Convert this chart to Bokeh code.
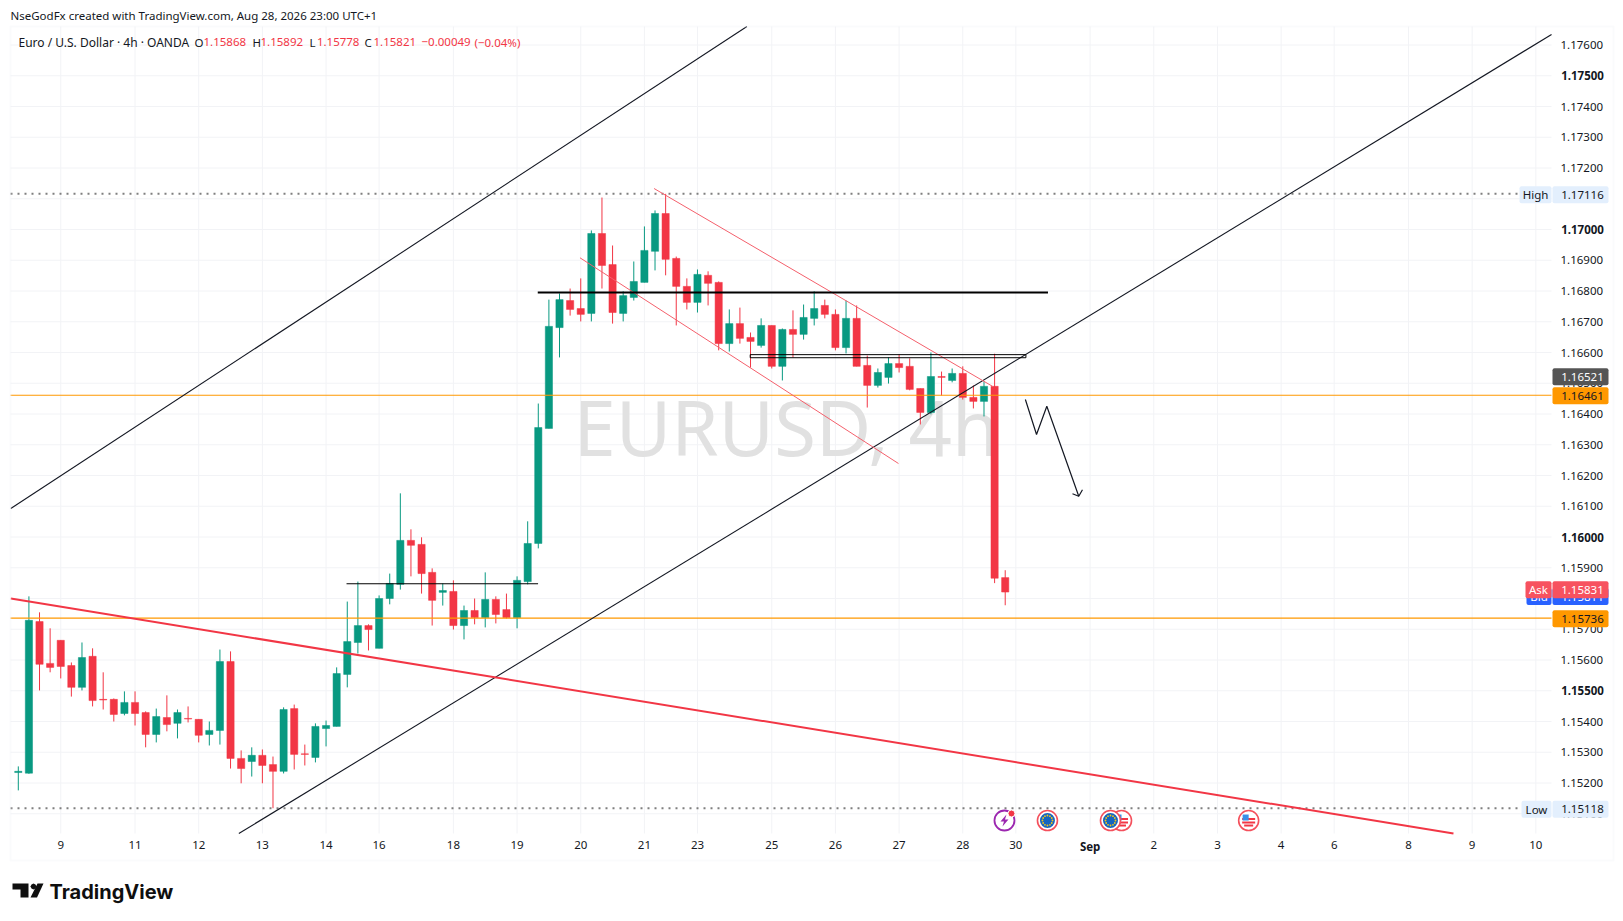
from bokeh.plotting import figure
from bokeh.embed import file_html
from bokeh.resources import INLINE
from bokeh.models import (ColumnDataSource, Label, BoxAnnotation, PolyAnnotation, FixedTicker, Range1d)
from bokeh.core.properties import value

opens = [1.15234,1.15232,1.15725,1.15589,1.15664,1.15582,1.15511,1.15612,1.15472,1.15472,
1.15426,1.15462,1.15429,1.15358,1.15413,1.15394,1.15410,1.15407,1.15358,1.15371,
1.15595,1.15280,1.15270,1.15290,1.15260,1.15238,1.15442,1.15295,1.15283,1.15377,
1.15384,1.15553,1.15657,1.15712,1.15638,1.15800,1.15846,1.15989,1.15976,1.15885,
1.15820,1.15823,1.15712,1.15761,1.15738,1.15797,1.15764,1.15738,1.15855,1.15979,
1.16353,1.16681,1.16769,1.16743,1.16727,1.16987,1.16886,1.16727,1.16779,1.16828,
1.16929,1.17052,1.16906,1.16815,1.16763,1.16851,1.16828,1.16629,1.16694,1.16649,
1.16623,1.16688,1.16555,1.16675,1.16659,1.16711,1.16753,1.16724,1.16616,1.16711,
1.16558,1.16493,1.16519,1.16564,1.16555,1.16483,1.16405,1.16522,1.16509,1.16532,
1.16454,1.16441,1.16490,1.15868]
closes = [1.15238,1.15729,1.15586,1.15576,1.15579,1.15511,1.15608,1.15468,1.15470,1.15423,
1.15462,1.15426,1.15358,1.15416,1.15390,1.15429,1.15408,1.15355,1.15371,1.15595,
1.15280,1.15247,1.15290,1.15257,1.15238,1.15439,1.15293,1.15293,1.15384,1.15387,
1.15556,1.15660,1.15712,1.15699,1.15800,1.15849,1.15989,1.15973,1.15881,1.15794,
1.15826,1.15712,1.15761,1.15738,1.15797,1.15748,1.15738,1.15859,1.15979,1.16356,
1.16685,1.16772,1.16740,1.16724,1.16987,1.16883,1.16730,1.16785,1.16831,1.16932,
1.17052,1.16903,1.16815,1.16763,1.16854,1.16825,1.16629,1.16694,1.16646,1.16636,
1.16688,1.16555,1.16675,1.16659,1.16714,1.16743,1.16724,1.16616,1.16711,1.16555,
1.16493,1.16535,1.16564,1.16551,1.16480,1.16405,1.16522,1.16519,1.16532,1.16454,
1.16441,1.16490,1.15866,1.15821]
highs = [1.15254,1.15807,1.15755,1.15703,1.15664,1.15592,1.15657,1.15638,1.15560,1.15475,
1.15498,1.15498,1.15433,1.15442,1.15485,1.15439,1.15449,1.15407,1.15400,1.15634,
1.15628,1.15306,1.15316,1.15309,1.15286,1.15446,1.15455,1.15325,1.15394,1.15403,
1.15576,1.15790,1.15855,1.15716,1.15810,1.15881,1.16142,1.16025,1.15999,1.15898,
1.15849,1.15859,1.15777,1.15800,1.15885,1.15807,1.15816,1.15872,1.16051,1.16434,
1.16772,1.16792,1.16808,1.16841,1.16997,1.17104,1.16948,1.16799,1.16896,1.17010,
1.17062,1.17116,1.16912,1.16841,1.16870,1.16864,1.16831,1.16740,1.16746,1.16665,
1.16711,1.16688,1.16678,1.16737,1.16756,1.16799,1.16772,1.16740,1.16769,1.16753,
1.16590,1.16548,1.16584,1.16594,1.16581,1.16483,1.16600,1.16538,1.16548,1.16555,
1.16493,1.16506,1.16596,1.15892]
lows = [1.15176,1.15230,1.15501,1.15560,1.15540,1.15481,1.15501,1.15449,1.15439,1.15400,
1.15420,1.15387,1.15316,1.15332,1.15368,1.15345,1.15397,1.15332,1.15322,1.15325,
1.15247,1.15199,1.15221,1.15199,1.15118,1.15231,1.15244,1.15257,1.15267,1.15319,
1.15384,1.15511,1.15621,1.15631,1.15638,1.15781,1.15829,1.15872,1.15816,1.15712,
1.15777,1.15699,1.15667,1.15716,1.15706,1.15719,1.15735,1.15703,1.15846,1.15963,
1.16353,1.16584,1.16720,1.16701,1.16701,1.16808,1.16694,1.16701,1.16769,1.16828,
1.16867,1.16851,1.16688,1.16740,1.16730,1.16753,1.16607,1.16603,1.16629,1.16551,
1.16616,1.16548,1.16509,1.16584,1.16642,1.16688,1.16711,1.16607,1.16597,1.16555,
1.16421,1.16486,1.16499,1.16535,1.16477,1.16366,1.16399,1.16460,1.16503,1.16447,
1.16418,1.16392,1.15850,1.15778]

price_ticks = [1.151,1.152,1.153,1.154,1.155,1.156,1.157,1.158,1.159,1.160,1.161,1.162,1.163,1.164,
               1.165,1.166,1.167,1.168,1.169,1.170,1.171,1.172,1.173,1.174,1.175,1.176]
bold_prices = [1.155,1.160,1.170,1.175]
time_ticks = [4,11,17,23,29,34,41,47,53,59,64,71,77,83,89,94,101,107,113,119,124,131,137,143]
time_labels = ["9","11","12","13","14","16","18","19","20","21","23","25","26","27","28","30","Sep","2","3","4","6","8","9","10"]

channel_up_x = [-0.708,68.66];  channel_up_y = [1.160927,1.1766016]
channel_lo_x = [20.78,144.48];  channel_lo_y = [1.150358,1.176342]
red_long_x = [-0.708,135.24];   red_long_y = [1.158,1.150358]
red_up_x = [59.91,91.83];       red_up_y = [1.171333,1.164894]
red_lo_x = [52.93,82.94];       red_lo_y = [1.16908,1.16239]
level_thick_x = [48.95,97.03];  level_thick_y = [1.16795,1.16795]
level_short_x = [30.93,48.98];  level_short_y = [1.15848,1.15848]
rect_x = [68.97,94.95,94.95,68.97,68.97]; rect_y = [1.16593,1.16593,1.16583,1.16583,1.16593]
arrow_x = [94.90,95.95,96.92,99.93]; arrow_y = [1.164472,1.163333,1.164254,1.161327]
head_x = [99.34,99.93,100.28]; head_y = [1.161405,1.161327,1.161535]
orange_levels = [1.16461,1.15736]
session_high = 1.17116
session_low = 1.15118
eu_events = [96.98,102.92]
us_events = [103.96,115.94]
div_event = [92.93]
event_price = 1.15078

GREEN="#089981"; RED="#F23645"; INK="#131722"; GRID="#f2f3f6"

def X(px): return (px-17.8)/10.612
def Y(py): return 1.176-(py-44.5)/30750

FONT="Noto Sans"
W,H=1623,921
p = figure(width=W,height=H,output_backend="svg",toolbar_location=None,
           x_range=Range1d(X(0),X(W)),y_range=Range1d(Y(H),Y(0)),
           y_axis_location="right",min_border=0)
p.outline_line_color=None
p.background_fill_color="white"; p.border_fill_color="white"

p.xaxis.ticker=FixedTicker(ticks=time_ticks)
p.xaxis.major_label_overrides={t:("" if l=="Sep" else l) for t,l in zip(time_ticks,time_labels)}
p.yaxis.ticker=FixedTicker(ticks=price_ticks)
p.yaxis.major_label_overrides={t:("" if t in bold_prices else f"{t:.5f}") for t in price_ticks}
p.xaxis.fixed_location=Y(833)
p.yaxis.fixed_location=X(1551)
for ax,st in ((p.xaxis,7),(p.yaxis,9)):
    ax.axis_line_color=None; ax.major_tick_line_color=None; ax.minor_tick_line_color=None
    ax.major_tick_in=0; ax.major_tick_out=0
    ax.major_label_text_font=FONT; ax.major_label_text_font_size="11.5px"
    ax.major_label_text_color=INK; ax.major_label_standoff=st
p.grid.visible=False

# grid limited to the chart pane
p.segment(time_ticks,[Y(833)]*len(time_ticks),time_ticks,[Y(26)]*len(time_ticks),line_color=GRID,line_width=1)
p.segment([X(10)]*len(price_ticks),price_ticks,[X(1551)]*len(price_ticks),price_ticks,line_color=GRID,line_width=1)

# watermark
p.text(x=[X(573)],y=[Y(426)],text=["EURUSD, 4h"],text_font=value(FONT),text_font_size="76px",
       text_color="#e1e1e1",text_baseline="middle",text_align="left")

# candles
idx=list(range(len(opens)))
cols=[GREEN if c>=o else RED for o,c in zip(opens,closes)]
src=ColumnDataSource(dict(x=idx,o=opens,c=closes,h=highs,l=lows,col=cols))
p.segment("x","h","x","l",source=src,line_color="col",line_width=1)
p.vbar("x",0.68,"o","c",source=src,fill_color="col",line_color="col",line_width=0.5)

# levels
for lv in orange_levels:
    p.line([X(10),X(1551)],[lv,lv],line_color="#ff9800",line_width=1.2)
p.line([X(10),X(1517)],[session_high]*2,line_color="#7f7f7f",line_width=2,line_dash="2 5")
p.line([X(10),X(1517)],[session_low]*2,line_color="#7f7f7f",line_width=2,line_dash="2 5")

# drawings
p.line(channel_up_x,channel_up_y,line_color=INK,line_width=1.1)
p.line(channel_lo_x,channel_lo_y,line_color=INK,line_width=1.1)
p.line(red_long_x,red_long_y,line_color=RED,line_width=2)
p.line(red_up_x,red_up_y,line_color="#f4606c",line_width=1)
p.line(red_lo_x,red_lo_y,line_color="#f4606c",line_width=1)
p.line(level_thick_x,level_thick_y,line_color="black",line_width=2)
p.line(level_short_x,level_short_y,line_color="black",line_width=1.2)
p.line(rect_x,rect_y,line_color="black",line_width=1)
p.line(arrow_x,arrow_y,line_color=INK,line_width=1.2)
p.line(head_x,head_y,line_color=INK,line_width=1.2)

# event icons
def px_dx(d): return d/10.612
def px_dy(d): return -d/30750
p.scatter(us_events,[event_price]*2,size=20,marker="circle",fill_color="white",line_color="#f4505c",line_width=1.6)
for cx in us_events:
    for off,half in ((-1.5,6.5),(2,6.5),(5,4.5)):
        p.segment([cx+px_dx(-half)],[event_price+px_dy(off)],[cx+px_dx(half)],[event_price+px_dy(off)],line_color=RED,line_width=2)
    p.quad(left=[cx+px_dx(-6)],right=[cx+px_dx(0)],top=[event_price+px_dy(-6)],bottom=[event_price+px_dy(0)],fill_color="#3a8fe8",line_color=None)
p.scatter(eu_events,[event_price]*2,size=20,marker="circle",fill_color="white",line_color="#f4505c",line_width=1.6)
p.scatter(eu_events,[event_price]*2,size=15,marker="circle",fill_color="#1565c0",line_color=None)
star=[(0,-5),(2.5,-4.3),(4.3,-2.5),(5,0),(4.3,2.5),(2.5,4.3),(0,5),(-2.5,4.3),(-4.3,2.5),(-5,0),(-4.3,-2.5),(-2.5,-4.3)]
for cx in eu_events:
    p.scatter([cx+px_dx(a) for a,b in star],[event_price+px_dy(b) for a,b in star],size=1.8,marker="circle",fill_color="#f5c518",line_color=None)
p.scatter(div_event,[event_price],size=20,marker="circle",fill_color="white",line_color="#9c27b0",line_width=1.8)
cx=div_event[0]
bolt=[(2,-6),(-4,1),(-0.5,1),(-2,6),(4,-1),(0.5,-1)]
p.patch([cx+px_dx(a) for a,b in bolt],[event_price+px_dy(b) for a,b in bolt],fill_color="#9c27b0",line_color=None)
p.scatter([cx+px_dx(7)],[event_price+px_dy(-7)],size=7,marker="circle",fill_color=RED,line_color="white",line_width=1)

def box(l,r,t,b,fill,radius=0):
    p.add_layout(BoxAnnotation(left=X(l),right=X(r),top=Y(t),bottom=Y(b),fill_color=fill,fill_alpha=1,line_color=None,border_radius=radius,level="annotation"))
def lab(px,py,text,color=INK,size="11.5px",style="normal",align="left",font=FONT):
    p.add_layout(Label(x=X(px),y=Y(py),text=text,text_color=color,text_font=font,text_font_size=size,
                       text_font_style=style,text_align=align,text_baseline="middle",level="annotation"))

# outer pane border
p.add_layout(BoxAnnotation(left=X(10),right=X(1613),top=Y(26),bottom=Y(860),fill_alpha=0,line_color="#f0f1f4",line_width=2,level="annotation"))

for pr in bold_prices:
    lab(1560.7,44.5+(1.176-pr)*30750,f"{pr:.5f}",style="bold")
lab(17.8+10.612*101,846,"Sep",style="bold",align="center")

# price tags
def tag(py,l_box,text_val,fill,color,side=None):
    box(1552,1608,py-8.5,py+8.5,fill,2)
    lab(1560.7,py,text_val,color=color)
    if side:
        box(l_box,1551,py-8.5,py+8.5,fill,2)
        lab((l_box+1551)/2,py,side,color=color,align="center")
tag(194.3,1519,"1.17116","#e3effd",INK,"High")
tag(376.3,0,"1.16521","#555555","#ffffff")
tag(395.3,0,"1.16461","#ff9800",INK)
tag(596,1526,"1.15811","#2962ff","#ffffff","Bid")
tag(589.3,1525,"1.15831","#f7525f","#ffffff","Ask")
tag(618.3,0,"1.15736","#ff9800",INK)
tag(808.7,1521,"1.15118","#e3effd",INK,"Low")

# header
lab(10,15,"NseGodFx created with TradingView.com, Aug 28, 2026 23:00 UTC+1")
lab(18,41.5,"Euro / U.S. Dollar · 4h · OANDA",size="12px")
for px,t,c in ((194,"O",INK),(203,"1.15868",RED),(252,"H",INK),(260,"1.15892",RED),(309,"L",INK),(316.4,"1.15778",RED),
               (364,"C",INK),(373,"1.15821",RED),(421,"−0.00049",RED),(474,"(−0.04%)",RED)):
    lab(px,41.5,t,color=c)

# logo
lab(49,891,"TradingView",color="#0f0f0f",size="20px",style="bold",font="Inter")
def poly(pts):
    p.add_layout(PolyAnnotation(xs=[X(a) for a,b in pts],ys=[Y(b) for a,b in pts],fill_color="#0f0f0f",fill_alpha=1,line_color=None,level="annotation"))
poly([(12,883),(28,883),(28,897),(20,897),(20,889),(12,889)])
poly([(43,883),(37,883),(30,897),(36.5,897)])
poly([(31,884),(33,883),(35,884),(36,886),(35,888),(33,889),(31,888),(30,886)])

open("out.html","w").write(file_html(p,INLINE))
